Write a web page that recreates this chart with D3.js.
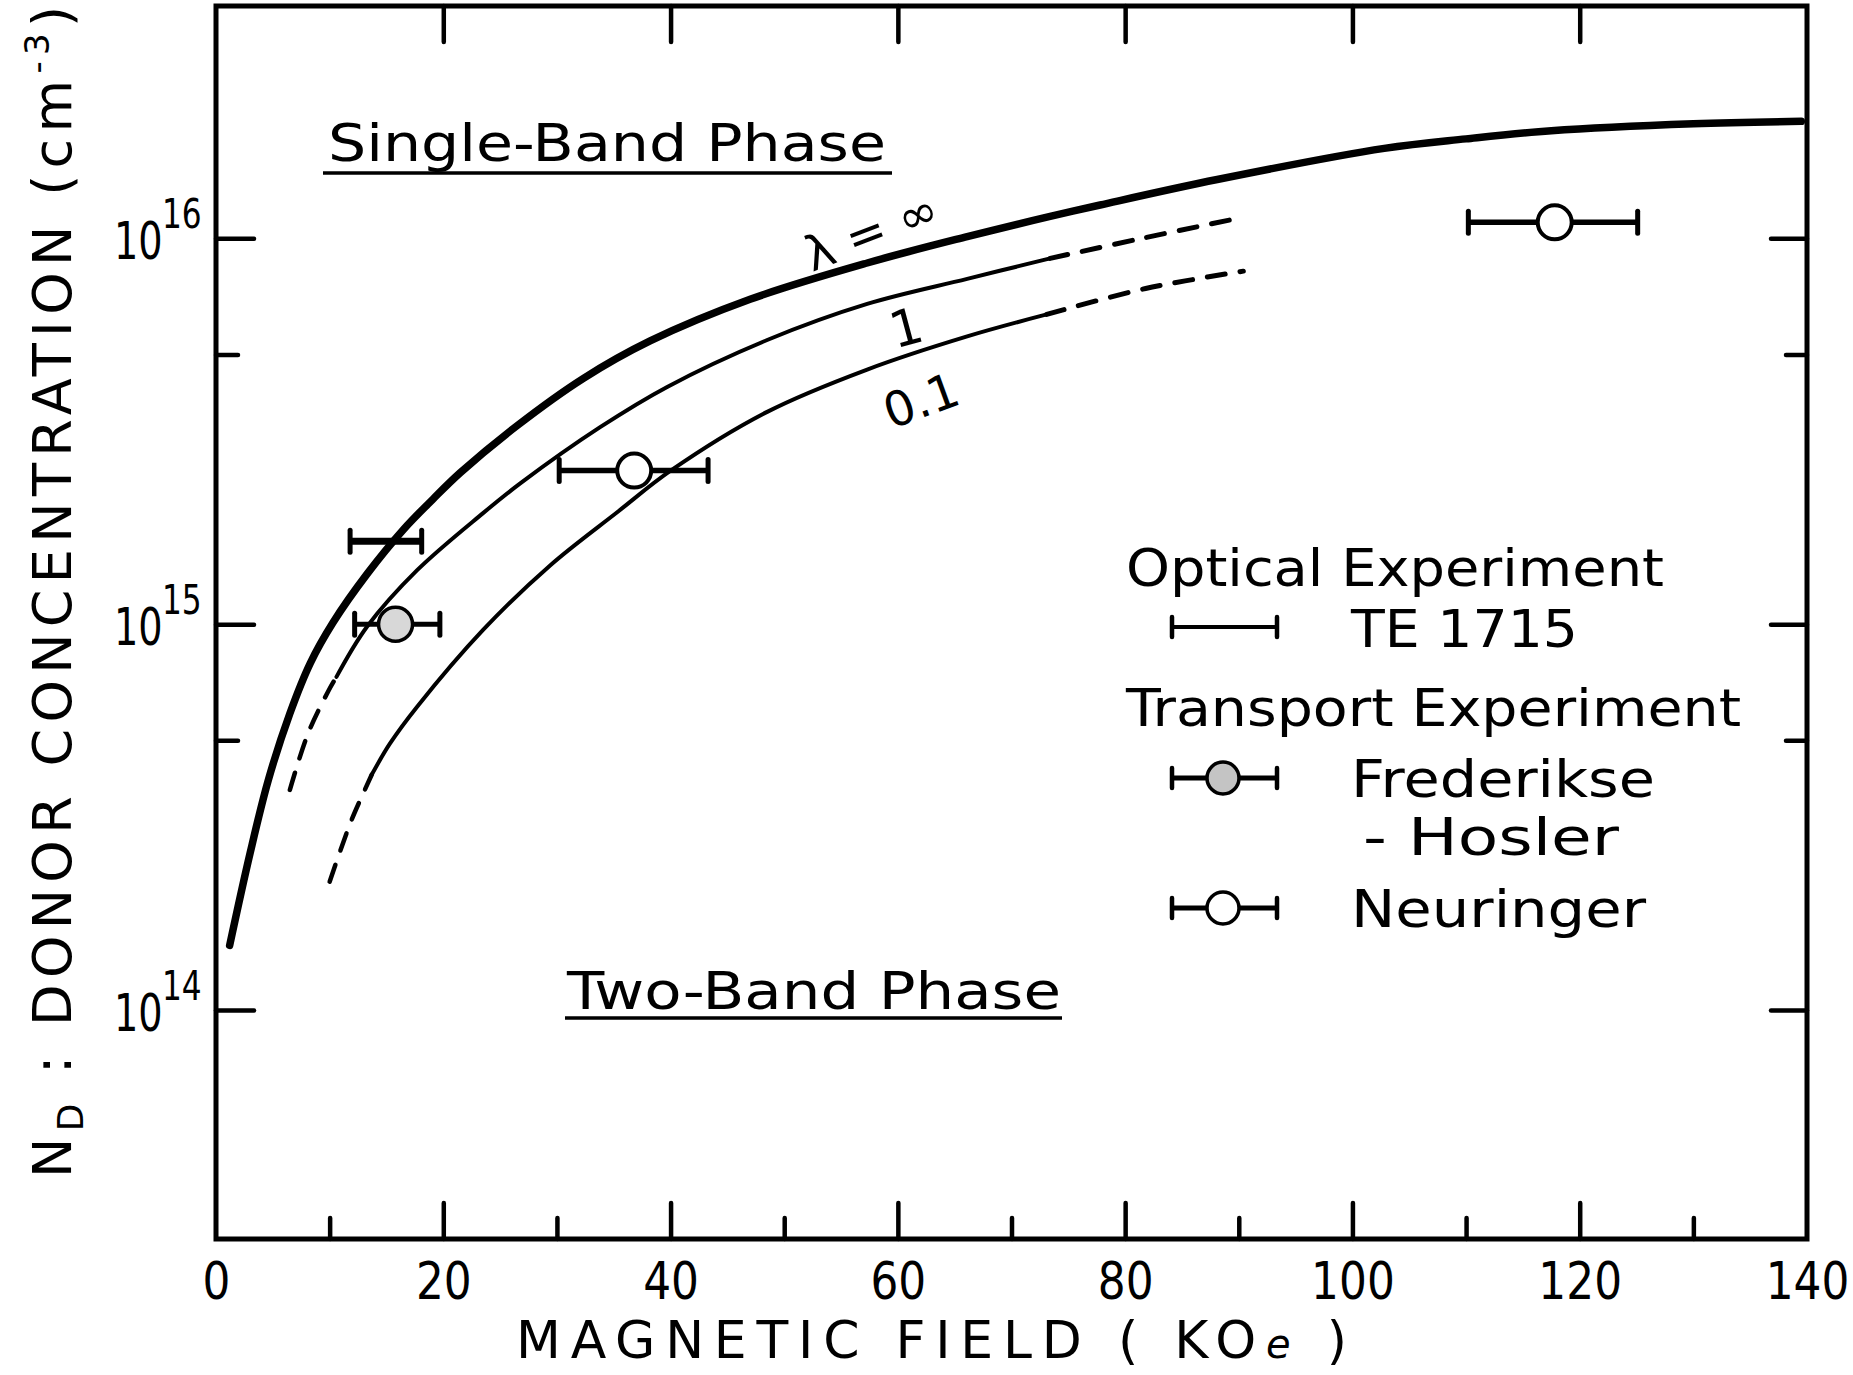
<!DOCTYPE html>
<html>
<head>
<meta charset="utf-8">
<script src="https://cdn.jsdelivr.net/npm/d3@7"></script>
<style>
  html, body { margin: 0; padding: 0; background: #fff; }
  text { font-family: "DejaVu Sans", sans-serif; fill: #000; }
</style>
</head>
<body>
<script>
// ---- data (field in KOe, concentration in cm^-3) ----
// lambda = infinity boundary (thick line)
const infField = [1.2, 3.0, 4.6, 6.5, 8.3, 10.3, 13.3, 16.5, 19.1, 21.5, 26.5, 32.3, 38.2, 47.0, 57.3, 66.1, 73.4, 77.8, 88.1, 102.8, 110, 117.5, 130, 139.5];
const infConc  = [1.47e14, 2.55e14, 3.94e14, 5.87e14, 7.93e14, 1.01e15, 1.35e15, 1.76e15, 2.11e15, 2.47e15, 3.27e15, 4.33e15, 5.42e15, 6.95e15, 8.63e15, 1.01e16, 1.14e16, 1.22e16, 1.42e16, 1.71e16, 1.81e16, 1.90e16, 1.98e16, 2.01e16];

// lambda = 1
const lam1LowField  = [6.5, 8.1, 9.9, 10.6];
const lam1LowConc   = [3.72e14, 5.21e14, 6.72e14, 7.30e14];
const lam1Field     = [10.6, 13.3, 17.7, 23.5, 26.8, 33.8, 39.7, 48.5, 57.3, 66.1, 73.4];
const lam1Conc      = [7.30e14, 9.86e14, 1.38e15, 1.94e15, 2.32e15, 3.24e15, 4.12e15, 5.45e15, 6.76e15, 7.85e15, 8.87e15];
const lam1HighField = [73.4, 81.5, 89.5];
const lam1HighConc  = [8.87e15, 1.0e16, 1.12e16];

// lambda = 0.1
const lam01LowField  = [10.0, 11.8, 12.8, 13.7];
const lam01LowConc   = [2.15e14, 3.04e14, 3.56e14, 4.07e14];
const lam01Field     = [13.7, 15.3, 17.7, 23.5, 29.4, 35.3, 40.1, 48.5, 57.3, 66.1, 73.1];
const lam01Conc      = [4.07e14, 4.90e14, 6.11e14, 9.66e14, 1.42e15, 1.95e15, 2.51e15, 3.55e15, 4.57e15, 5.57e15, 6.35e15];
const lam01HighField = [73.1, 81.8, 90.4];
const lam01HighConc  = [6.35e15, 7.41e15, 8.22e15];

// experiments: centre, error bar ends, concentration
const opticalField = [15.0], opticalLo = [11.8], opticalHi = [18.1], opticalConc = [1.64e15];
const fredField = [15.8], fredLo = [12.2], fredHi = [19.7], fredConc = [1.0e15];
const neurField = [36.8, 117.8], neurLo = [30.2, 110.2], neurHi = [43.3, 125.1], neurConc = [2.5e15, 1.1e16];

// ticks
const xLabels = [0, 20, 40, 60, 80, 100, 120, 140];
const xMajor = [20, 40, 60, 80, 100, 120];
const xMinor = [10, 30, 50, 70, 90, 110, 130];
const yMajor = [1e14, 1e15, 1e16];
const yMinor = [5e14, 5e15];
const yExponents = ["14", "15", "16"];

// ---- canvas ----
const width = 1853, height = 1375;
const plot = {left: 216, right: 1807, top: 6, bottom: 1239};

const svg = d3.select("body").append("svg")
  .attr("width", width).attr("height", height);

const x = d3.scaleLinear().domain([0, 140]).range([plot.left, plot.right]);
const y = d3.scaleLog().domain([2.55e13, 4.0e16]).range([plot.bottom, plot.top]);

//frame
svg.append("rect")
  .attr("x", plot.left).attr("y", plot.top)
  .attr("width", plot.right - plot.left).attr("height", plot.bottom - plot.top)
  .attr("fill", "none").attr("stroke", "black").attr("stroke-width", 5);

//ticks, all pointing inward
function tickGroup(axis, tx, ty) {
  const g = svg.append("g").attr("transform", `translate(${tx},${ty})`).call(axis);
  g.select(".domain").remove();
  g.selectAll("line").attr("stroke", "black").attr("stroke-width", 4.5).attr("stroke-linecap", "round");
  return g;
}
tickGroup(d3.axisBottom(x).tickValues(xMajor).tickSize(-36).tickFormat(""), 0, plot.bottom);
tickGroup(d3.axisBottom(x).tickValues(xMinor).tickSize(-21).tickFormat(""), 0, plot.bottom);
tickGroup(d3.axisTop(x).tickValues(xMajor).tickSize(-36).tickFormat(""), 0, plot.top);
tickGroup(d3.axisLeft(y).tickValues(yMajor).tickSize(-38).tickFormat(""), plot.left, 0);
tickGroup(d3.axisLeft(y).tickValues(yMinor).tickSize(-22).tickFormat(""), plot.left, 0);
tickGroup(d3.axisRight(y).tickValues(yMajor).tickSize(-36).tickFormat(""), plot.right, 0);
tickGroup(d3.axisRight(y).tickValues(yMinor).tickSize(-21).tickFormat(""), plot.right, 0);

//x tick labels (narrowed digits)
const xl = svg.append("g").attr("transform", `translate(0,${plot.bottom})`)
  .call(d3.axisBottom(x).tickValues(xLabels).tickSize(0).tickPadding(24));
xl.select(".domain").remove();
xl.selectAll("text")
  .style("font-family", '"DejaVu Sans", sans-serif')
  .style("font-size", "51px")
  .attr("transform", "scale(0.86,1)");

//y tick labels: 10 with superscript exponent
yMajor.forEach((v, i) => {
  svg.append("text")
    .attr("transform", `translate(114,${y(v) + 21}) scale(0.75,1)`)
    .style("font-size", "51px").text("10");
  svg.append("text")
    .attr("transform", `translate(162,${y(v) - 10}) scale(0.78,1)`)
    .style("font-size", "40px").text(yExponents[i]);
});

//axis titles
const xt = svg.append("text")
  .attr("x", 516).attr("y", 1358)
  .attr("textLength", 831).attr("lengthAdjust", "spacing")
  .style("font-size", "52px");
xt.append("tspan").text("MAGNETIC FIELD ( KO");
xt.append("tspan").style("font-style", "italic").style("font-size", "40px").text("e");
xt.append("tspan").text(" )");

const yt = svg.append("text")
  .attr("transform", "translate(71,1178) rotate(-90)")
  .attr("textLength", 1172).attr("lengthAdjust", "spacing")
  .style("font-size", "54px");
yt.append("tspan").text("N");
yt.append("tspan").attr("dy", 12).style("font-size", "36px").text("D");
yt.append("tspan").attr("dy", -12).text(" : DONOR CONCENTRATION (cm");
yt.append("tspan").attr("dy", -22).style("font-size", "34px").text("-3");
yt.append("tspan").attr("dy", 22).text(")");

//phase labels
function phaseLabel(txt, tx, ty, len, ux0, ux1, uy) {
  svg.append("text").attr("x", tx).attr("y", ty)
    .attr("textLength", len).attr("lengthAdjust", "spacingAndGlyphs")
    .style("font-size", "51px").text(txt);
  svg.append("line").attr("x1", ux0).attr("x2", ux1).attr("y1", uy).attr("y2", uy)
    .attr("stroke", "black").attr("stroke-width", 3.5);
}
phaseLabel("Single-Band Phase", 328, 161, 558, 323, 892, 173);
phaseLabel("Two-Band Phase", 567, 1009, 494, 565, 1062, 1018);

//curves
const line = d3.line().x(d => x(d[0])).y(d => y(d[1])).curve(d3.curveCatmullRom.alpha(0.5));
function curve(fields, concs, w, dashed) {
  svg.append("path")
    .attr("d", line(d3.zip(fields, concs)))
    .attr("fill", "none").attr("stroke", "black")
    .attr("stroke-width", w)
    .attr("stroke-linecap", "round")
    .attr("stroke-dasharray", dashed ? "18,15" : null);
}
curve(infField, infConc, 7.5, false);
curve(lam1Field, lam1Conc, 4, false);
curve(lam1LowField, lam1LowConc, 4.5, true);
curve(lam1HighField, lam1HighConc, 5, true);
curve(lam01Field, lam01Conc, 4, false);
curve(lam01LowField, lam01LowConc, 4.5, true);
curve(lam01HighField, lam01HighConc, 5, true);

//curve labels
function curveLabel(txt, cx, cy, rot, size) {
  svg.append("text")
    .attr("transform", `translate(${cx},${cy}) rotate(${rot})`)
    .attr("text-anchor", "middle").attr("dy", "0.36em")
    .style("font-size", size + "px").text(txt);
}
curveLabel("λ = ∞", 871, 231, -21, 48);
curveLabel("1", 906, 327, -15, 50);
curveLabel("0.1", 921, 400, -20, 48);

//error bars
function errorBar(fx, lo, hi, c, w, capH) {
  const yy = y(c);
  svg.append("line").attr("x1", x(lo)).attr("x2", x(hi)).attr("y1", yy).attr("y2", yy)
    .attr("stroke", "black").attr("stroke-width", w);
  [lo, hi].forEach(e => {
    svg.append("line").attr("x1", x(e)).attr("x2", x(e))
      .attr("y1", yy - capH / 2).attr("y2", yy + capH / 2)
      .attr("stroke", "black").attr("stroke-width", 5).attr("stroke-linecap", "round");
  });
}
opticalField.forEach((f, i) => errorBar(f, opticalLo[i], opticalHi[i], opticalConc[i], 7, 22));
fredField.forEach((f, i) => {
  errorBar(f, fredLo[i], fredHi[i], fredConc[i], 5, 22);
  svg.append("circle").attr("cx", x(f)).attr("cy", y(fredConc[i])).attr("r", 17)
    .attr("fill", "#d8d8d8").attr("stroke", "black").attr("stroke-width", 3.5);
});
neurField.forEach((f, i) => {
  errorBar(f, neurLo[i], neurHi[i], neurConc[i], 5.5, 22);
  svg.append("circle").attr("cx", x(f)).attr("cy", y(neurConc[i])).attr("r", 17)
    .attr("fill", "white").attr("stroke", "black").attr("stroke-width", 4);
});

//legend
function legendText(txt, tx, ty, len) {
  svg.append("text").attr("x", tx).attr("y", ty)
    .attr("textLength", len).attr("lengthAdjust", "spacingAndGlyphs")
    .style("font-size", "51px").text(txt);
}
function legendMarker(cy, fill, w) {
  svg.append("line").attr("x1", 1172).attr("x2", 1277).attr("y1", cy).attr("y2", cy)
    .attr("stroke", "black").attr("stroke-width", w);
  [1172, 1277].forEach(e => {
    svg.append("line").attr("x1", e).attr("x2", e).attr("y1", cy - 10).attr("y2", cy + 10)
      .attr("stroke", "black").attr("stroke-width", 4.5).attr("stroke-linecap", "round");
  });
  if (fill) {
    svg.append("circle").attr("cx", 1223).attr("cy", cy).attr("r", 16)
      .attr("fill", fill).attr("stroke", "black").attr("stroke-width", 3.5);
  }
}
legendText("Optical Experiment", 1126, 586, 538);
legendMarker(627, null, 4);
legendText("TE 1715", 1351, 647, 227);
legendText("Transport Experiment", 1126, 726, 615);
legendMarker(778, "#c4c4c4", 5);
legendText("Frederikse", 1351, 797, 304);
legendText("- Hosler", 1363, 855, 256);
legendMarker(908, "white", 5);
legendText("Neuringer", 1351, 927, 295);
</script>
</body>
</html>
